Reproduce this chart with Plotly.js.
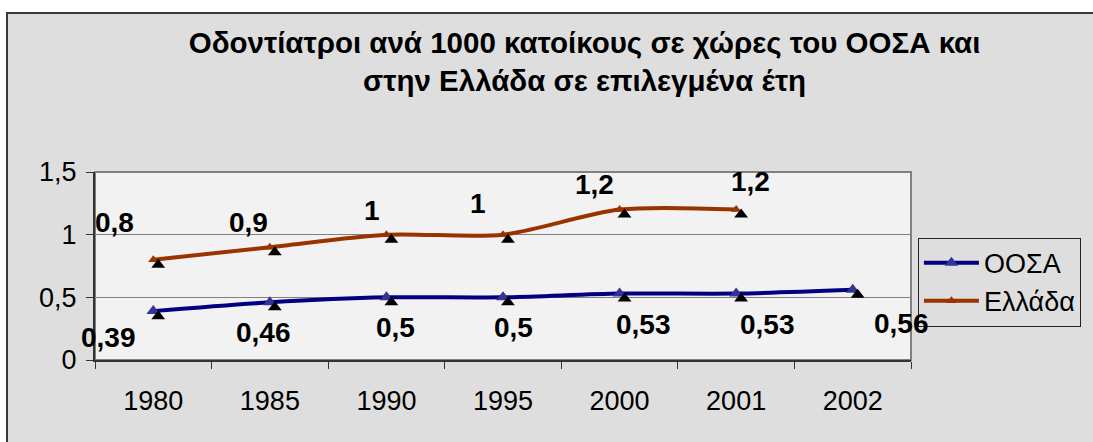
<!DOCTYPE html>
<html>
<head>
<meta charset="utf-8">
<script src="https://cdn.plot.ly/plotly-3.0.1.min.js"></script>
<style>
  html, body { margin: 0; padding: 0; background: #ffffff; }
  #frame { position: absolute; left: 6px; top: 12px; width: 1087px; height: 430px;
           border-top: 2px solid #3a3a3a; border-left: 2px solid #3a3a3a; background: #dedede; }
  #chart { width: 1085px; height: 428px; }
</style>
</head>
<body>
<div id="frame"><div id="chart"></div></div>
<script>
// ---- data ----
const years = ['1980', '1985', '1990', '1995', '2000', '2001', '2002'];
const oosa = [0.39, 0.46, 0.5, 0.5, 0.53, 0.53, 0.56];
const ellada = [0.8, 0.9, 1, 1, 1.2, 1.2, null];
const seriesNames = ['ΟΟΣΑ', 'Ελλάδα'];
const yTicks = [0, 0.5, 1, 1.5];
const titleLines = ['Οδοντίατροι ανά 1000 κατοίκους σε χώρες του ΟΟΣΑ και', 'στην Ελλάδα σε επιλεγμένα έτη'];

// label offsets in pixels (positions, not data)
const ellShift = [[-39, 37], [-21, 25], [-14, 24], [-25, 31], [-25, 25], [14, 28]];
const oosaShift = [[-45, -26], [-6, -30], [9, -30], [10, -30], [24, -31], [31, -31], [49, -34]];

const FONT = 'Arial, "Liberation Sans", sans-serif';
const BLUE = '#000080', BLUE_M = '#333399', RUST = '#993300';

const fmt = v => String(v).replace('.', ',');

const shadowDX = 0.0425, shadowDY = 0.04;

const traces = [
  { x: years, y: oosa, xaxis: 'x2', yaxis: 'y2', mode: 'markers', showlegend: false, hoverinfo: 'skip',
    marker: { symbol: 'triangle-up', size: 12, color: '#000000' } },
  { x: years, y: ellada, xaxis: 'x2', yaxis: 'y2', mode: 'markers', showlegend: false, hoverinfo: 'skip',
    marker: { symbol: 'triangle-up', size: 12, color: '#000000' } },
  { x: years, y: oosa, name: seriesNames[0], mode: 'lines+markers',
    line: { color: BLUE, width: 4, shape: 'spline', smoothing: 0.8 },
    marker: { symbol: 'triangle-up', size: 12, color: BLUE_M } },
  { x: years, y: ellada, name: seriesNames[1], mode: 'lines+markers',
    line: { color: RUST, width: 4, shape: 'spline', smoothing: 0.8 },
    marker: { symbol: 'triangle-up', size: 9, color: RUST } }
];

const annotations = [];
ellada.forEach((v, i) => {
  if (v === null) return;
  annotations.push({ x: i, y: v, xref: 'x', yref: 'y', text: '<b>' + fmt(v) + '</b>', showarrow: false,
    xanchor: 'center', yanchor: 'middle',
    xshift: ellShift[i][0], yshift: ellShift[i][1], font: { family: FONT, size: 28, color: '#000000' } });
});
oosa.forEach((v, i) => {
  annotations.push({ x: i, y: v, xref: 'x', yref: 'y', text: '<b>' + fmt(v) + '</b>', showarrow: false,
    xanchor: 'center', yanchor: 'middle',
    xshift: oosaShift[i][0], yshift: oosaShift[i][1], font: { family: FONT, size: 28, color: '#000000' } });
});

const layout = {
  width: 1085, height: 428,
  margin: { l: 87, r: 175, t: 158, b: 82 },
  paper_bgcolor: '#dedede',
  plot_bgcolor: '#f2f2f2',
  separators: ', ',
  font: { family: FONT, color: '#000' },
  title: { text: '<b>' + titleLines.join('<br>') + '</b>', x: 0.6, xref: 'paper', xanchor: 'center',
           y: 0.91, yref: 'container', yanchor: 'top', font: { family: FONT, size: 29.5, color: '#000' } },
  xaxis: { type: 'category', categoryorder: 'array', categoryarray: years, range: [-0.5, 6.5],
           tickson: 'boundaries', ticks: 'outside', ticklen: 7, tickcolor: '#333', tickwidth: 1,
           showline: true, linecolor: '#333', linewidth: 2, showgrid: false,
           tickfont: { family: FONT, size: 27 }, ticklabelstandoff: 16, fixedrange: true },
  yaxis: { range: [0, 1.5], tickvals: yTicks, ticktext: yTicks.map(fmt), ticks: 'outside', ticklen: 7,
           tickcolor: '#333', showline: true, linecolor: '#333', linewidth: 2,
           showgrid: true, gridcolor: '#808080', gridwidth: 1, zeroline: false,
           tickfont: { family: FONT, size: 27 }, ticklabelstandoff: 4, fixedrange: true },
  xaxis2: { type: 'category', categoryorder: 'array', categoryarray: years, overlaying: 'x',
            range: [-0.5 - shadowDX, 6.5 - shadowDX], visible: false, fixedrange: true },
  yaxis2: { overlaying: 'y', range: [shadowDY, 1.5 + shadowDY], visible: false, fixedrange: true },
  shapes: [{ type: 'rect', xref: 'paper', yref: 'paper', x0: 0, x1: 1, y0: 0, y1: 1,
             line: { color: '#808080', width: 2 }, layer: 'below' }],
  showlegend: true,
  legend: { x: 1.0085, xanchor: 'left', y: 0.651, yanchor: 'top', bgcolor: '#dedede',
            bordercolor: '#222', borderwidth: 1, itemwidth: 55, tracegroupgap: 0,
            font: { family: FONT, size: 27, color: '#000' } },
  annotations: annotations
};

Plotly.newPlot('chart', traces, layout, { displayModeBar: false, staticPlot: true });
</script>
</body>
</html>
